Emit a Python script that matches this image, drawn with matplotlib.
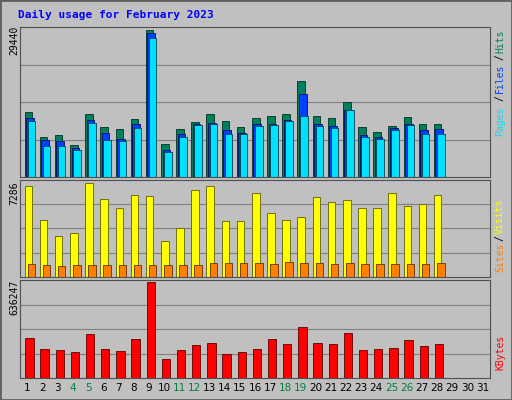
import numpy as np
import matplotlib.pyplot as plt

days = np.arange(1, 32)
n = 28
hits = [13018, 8011, 8412, 6409, 12617, 10014, 9613, 11616, 29440, 6609, 9613, 11015, 12617, 11215,
        10014, 11816, 12216, 12617, 19226, 12216, 11816, 15020, 10014, 9012, 10214, 12016, 10614, 10614]
files = [11817, 7410, 7210, 5808, 11416, 8812, 7610, 10615, 28840, 5407, 8612, 10615, 10815, 9413,
         8812, 10615, 10615, 11416, 16623, 10615, 10214, 13418, 8412, 8011, 9813, 10615, 9413, 9613]
pages = [11216, 6209, 6209, 5407, 10815, 7410, 7210, 9813, 27839, 5007, 8011, 10414, 10615, 8612,
         8612, 10214, 10414, 11216, 12217, 10214, 9813, 13418, 8011, 7610, 9413, 10414, 8612, 8612]
visits = [7051, 4387, 3134, 3369, 7286, 6032, 5327, 6346, 6267, 2820, 3761, 6738, 7051, 4309,
          4309, 6503, 4936, 4387, 4622, 6189, 5797, 5954, 5327, 5327, 6503, 5484, 5641, 6346]
sites = [1000, 920, 850, 920, 960, 940, 950, 930, 960, 900, 920, 940, 1050, 1100,
         1100, 1080, 1000, 1150, 1100, 1050, 1020, 1080, 1000, 980, 1000, 1020, 1000, 1050]
kbytes = [266800, 191500, 184700, 171000, 294200, 191500, 177900, 260000, 636247, 123100, 184700,
          218900, 232600, 157300, 171000, 191500, 260000, 225800, 335200, 232600, 225800, 301000,
          184700, 191500, 198400, 253100, 212100, 225800]
weekend = [4, 5, 11, 12, 18, 19, 25, 26]

W, H = 512, 400
fig = plt.figure(figsize=(W / 100, H / 100), dpi=100)
fig.patch.set_facecolor('#C0C0C0')
fig.patches.append(plt.Rectangle((0, 0), 1, 1, transform=fig.transFigure, fill=False,
                                 ec='#606060', lw=2))
mono = 'DejaVu Sans Mono'

def panel(top, bottom):
    ax = fig.add_axes([20 / W, 1 - bottom / H, 470 / W, (bottom - top) / H])
    ax.set_facecolor('#C0C0C0')
    ax.set_xlim(0.5, 31.5)
    ax.set_xticks([])
    ax.set_yticks([])
    for s in ax.spines.values():
        s.set_color('#505050')
    return ax

x = np.arange(1, n + 1)
bw = 0.5

# top panel
ax1 = panel(27, 177)
ymax = 29440 * 1.02
ax1.set_ylim(0, ymax)
for f in (0.25, 0.5, 0.75):
    ax1.axhline(ymax * f, color='#808080', lw=0.8, zorder=0)
ax1.bar(x - 0.2, hits, bw, color='#00805C', ec='#003020', lw=0.6, align='edge')
ax1.bar(x - 0.1, files, bw, color='#0040FF', ec='#001060', lw=0.6, align='edge')
ax1.bar(x + 0.0, pages, bw, color='#00E0FF', ec='#004050', lw=0.6, align='edge')

# middle panel
ax2 = panel(180, 277)
ymax2 = 7286 * 1.03
ax2.set_ylim(0, ymax2)
for f in (0.25, 0.5, 0.75):
    ax2.axhline(ymax2 * f, color='#808080', lw=0.8, zorder=0)
ax2.bar(x - 0.2, visits, bw, color='#FFFF00', ec='#606000', lw=0.6, align='edge')
ax2.bar(x + 0.0, sites, bw, color='#FF8000', ec='#603000', lw=0.6, align='edge')

# bottom panel
ax3 = panel(280, 378)
ymax3 = 636247 * 1.02
ax3.set_ylim(0, ymax3)
for f in (0.25, 0.5, 0.75):
    ax3.axhline(ymax3 * f, color='#808080', lw=0.8, zorder=0)
ax3.bar(x - 0.15, kbytes, bw + 0.05, color='#FF0000', ec='#600000', lw=0.6, align='edge')

for d in days:
    ax3.text(d, -0.1, str(d), transform=ax3.get_xaxis_transform(), ha='center', va='center',
             fontsize=7.5, color='#008040' if d in weekend else 'black')

fig.text(18 / W, 1 - 15 / H, 'Daily usage for February 2023', color='#0000FF', fontsize=8,
         fontweight='bold', family=mono, va='center')

for label, yc in (('29440', 40), ('7286', 193), ('636247', 297)):
    fig.text(14 / W, 1 - yc / H, label, rotation=90, ha='center', va='center',
             fontsize=7, family=mono)

def side(parts):
    for txt, yc, col in parts:
        fig.text(500 / W, 1 - yc / H, txt, rotation=90, ha='center', va='center',
                 fontsize=7, family=mono, color=col)

side([('Hits', 41, '#00805C'), ('/', 57, 'black'), ('Files', 78, '#0040FF'),
      ('/', 98, 'black'), ('Pages', 121, '#00E0FF')])
side([('Visits', 216, '#FFFF00'), ('/', 238, 'black'), ('Sites', 257, '#FF8000')])
side([('KBytes', 352, '#FF0000')])

fig.savefig('out.png', dpi=100, facecolor=fig.get_facecolor())
